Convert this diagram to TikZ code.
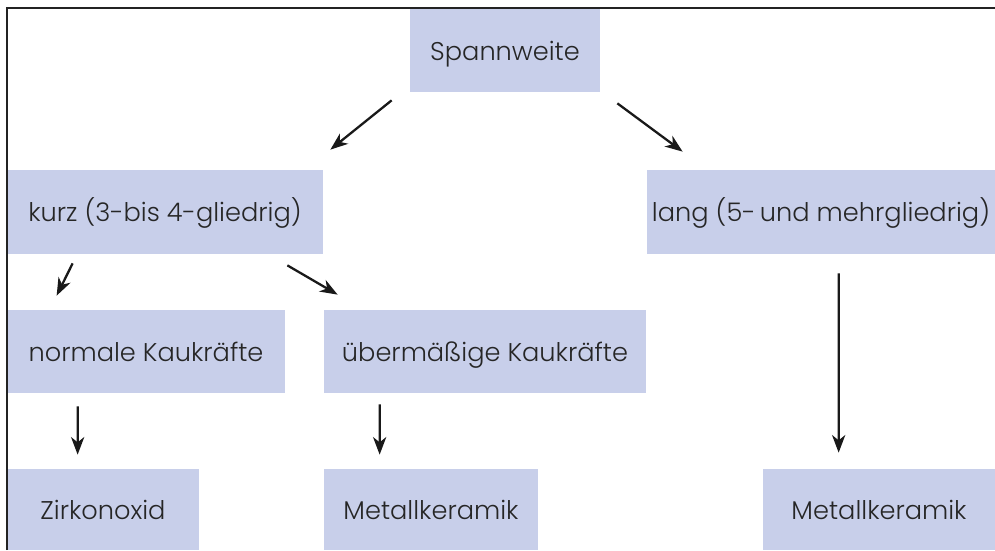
\documentclass[tikz,border=0pt]{standalone}
\usepackage{fontspec}
\IfFontExistsTF{Poppins Light}{\setmainfont{Poppins Light}}{\setmainfont{Poppins}}
\usetikzlibrary{arrows.meta}
\definecolor{boxblue}{RGB}{200,207,234}
\definecolor{framegray}{RGB}{35,35,35}
\tikzset{
  box/.style={fill=boxblue, inner sep=0pt, text=black!85, text height=1.1em, text depth=0pt,
    font=\fontsize{14.6}{18}\selectfont},
  arr/.style={line width=1.3pt, draw=black!90, -{Stealth[length=10pt,width=7.5pt,inset=3pt]}},
}
\begin{document}
\begin{tikzpicture}
      \useasboundingbox (0,0) rectangle (19.9,-11);
      \node[box, minimum width=3.80cm, minimum height=1.66cm] (spann) at (10.10,-1.01) {Spannweite};
      \node[box, minimum width=6.32cm, minimum height=1.68cm] (kurz) at (3.30,-4.24) {kurz (3-bis 4-gliedrig)};
      \node[box, minimum width=6.96cm, minimum height=1.68cm] (lang) at (16.42,-4.24) {lang (5-\,und mehrgliedrig)};
      \node[box, minimum width=5.56cm, minimum height=1.66cm] (normale) at (2.92,-7.03) {normale Kaukräfte};
      \node[box, minimum width=6.44cm, minimum height=1.66cm] (ueber) at (9.70,-7.03) {übermäßige Kaukräfte};
      \node[box, minimum width=3.84cm, minimum height=1.62cm] (zirk) at (2.06,-10.19) {Zirkonoxid};
      \node[box, minimum width=4.28cm, minimum height=1.62cm] (mk1) at (8.62,-10.19) {Metallkeramik};
      \node[box, minimum width=4.64cm, minimum height=1.62cm] (mk2) at (17.58,-10.19) {Metallkeramik};
      \draw[framegray, line width=1.1pt] (0.14,-11) -- (0.14,-0.16) -- (19.9,-0.16);
      \begin{scope}[arr]
        \draw ([shift={(-0.36,-0.16)}]spann.south west) -- ([shift={(0.14,0.40)}]kurz.north east);
        \draw ([shift={(0.34,-0.22)}]spann.south east) -- ([shift={(0.72,0.36)}]lang.north west);
        \draw ([shift={(1.32,-0.18)}]kurz.south west) -- ([shift={(1.00,0.28)}]normale.north west);
        \draw ([shift={(-0.72,-0.22)}]kurz.south east) -- ([shift={(0.28,0.30)}]ueber.north west);
        \draw ([shift={(1.42,-0.26)}]normale.south west) -- ([shift={(1.42,0.28)}]zirk.north west);
        \draw ([shift={(1.12,-0.22)}]ueber.south west) -- ([shift={(1.12,0.28)}]mk1.north west);
        \draw ([shift={(3.84,-0.38)}]lang.south west) -- ([shift={(1.52,0.32)}]mk2.north west);
      \end{scope}
    \end{tikzpicture}
\end{document}
